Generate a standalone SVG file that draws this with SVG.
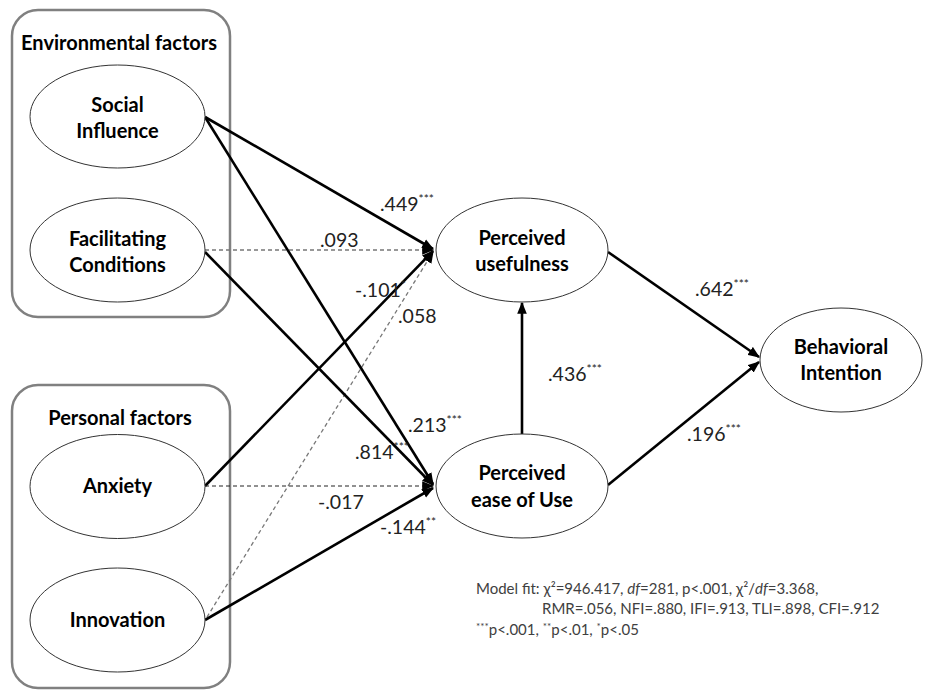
<svg xmlns="http://www.w3.org/2000/svg" width="930" height="690" viewBox="0 0 930 690">
<style>
.box{fill:none;stroke:#808080;stroke-width:2.5}
.node{fill:#fff;stroke:#333;stroke-width:1}
.nt{font-family:Lato,"Open Sans",sans-serif;font-weight:bold;font-size:20px;fill:#000;text-anchor:middle}
.gt{font-family:Lato,"Open Sans",sans-serif;font-weight:bold;font-size:20px;fill:#000;text-anchor:middle}
.solid{stroke:#000;stroke-width:2.6;fill:none}
.dash{stroke:#777;stroke-width:1.3;stroke-dasharray:4 3;fill:none}
.dashd{stroke:#222;stroke-width:1;stroke-dasharray:4 3;fill:none}
.lb{font-family:Lato,"Open Sans",sans-serif;font-size:19.5px;fill:#222}
.sup{font-size:12px}
.fit{font-family:Lato,"Open Sans",sans-serif;font-size:15px;fill:#404040}
.fsup{font-size:10px}
</style>
<defs>
<marker id="ah" viewBox="0 0 10 8" refX="9" refY="4" markerWidth="12" markerHeight="10" markerUnits="userSpaceOnUse" orient="auto">
<path d="M0,0 L10,4 L0,8 z" fill="#000"/>
</marker>
</defs>
<g id="env-group">
<rect class="box" x="12" y="10" width="218" height="307" rx="26"/>
<text class="gt" x="119" y="50">Environmental factors</text>
</g>
<g id="personal-group">
<rect class="box" x="12" y="385" width="218" height="303" rx="26"/>
<text class="gt" x="120" y="425">Personal factors</text>
</g>
<g id="connectors">
<line class="solid" x1="205" y1="117" x2="433" y2="249" marker-end="url(#ah)"/>
<line class="dash" x1="205" y1="250" x2="433" y2="250" marker-end="url(#ah)"/>
<line class="solid" x1="205" y1="486" x2="433" y2="251" marker-end="url(#ah)"/>
<line class="dash" x1="207" y1="617" x2="433" y2="252" marker-end="url(#ah)"/>
<line class="solid" x1="205" y1="117" x2="433" y2="484" marker-end="url(#ah)"/>
<line class="solid" x1="205" y1="252" x2="433" y2="485" marker-end="url(#ah)"/>
<line class="dashd" x1="205" y1="486" x2="433" y2="486" marker-end="url(#ah)"/>
<line class="solid" x1="205" y1="620" x2="433" y2="488" marker-end="url(#ah)"/>
<line class="solid" x1="522" y1="434" x2="522" y2="303" marker-end="url(#ah)"/>
<line class="solid" x1="608" y1="252" x2="759" y2="357" marker-end="url(#ah)"/>
<line class="solid" x1="608" y1="485" x2="759" y2="362" marker-end="url(#ah)"/>
</g>
<g id="labels">
<text class="lb" x="380" y="211">.449<tspan class="sup" dy="-8">***</tspan></text>
<text class="lb" x="320" y="247">.093</text>
<text class="lb" x="355" y="297">-.101<tspan class="sup" dy="-8">*</tspan></text>
<text class="lb" x="398" y="323">.058</text>
<text class="lb" x="408" y="432">.213<tspan class="sup" dy="-8">***</tspan></text>
<text class="lb" x="355" y="459">.814<tspan class="sup" dy="-8">***</tspan></text>
<text class="lb" x="318" y="509">-.017</text>
<text class="lb" x="380" y="534">-.144<tspan class="sup" dy="-8">**</tspan></text>
<text class="lb" x="695" y="296">.642<tspan class="sup" dy="-8">***</tspan></text>
<text class="lb" x="548" y="381">.436<tspan class="sup" dy="-8">***</tspan></text>
<text class="lb" x="687" y="441">.196<tspan class="sup" dy="-8">***</tspan></text>
</g>
<g id="social-influence">
<ellipse class="node" cx="117.5" cy="116.5" rx="87.5" ry="51.5"/>
<text class="nt" x="117.5" y="112">Social</text>
<text class="nt" x="117.5" y="138">Influence</text>
</g>
<g id="facilitating-conditions">
<ellipse class="node" cx="117.5" cy="250" rx="87.5" ry="52"/>
<text class="nt" x="117.5" y="246">Facilitating</text>
<text class="nt" x="117.5" y="272">Conditions</text>
</g>
<g id="anxiety">
<ellipse class="node" cx="117.5" cy="486.5" rx="87.5" ry="52"/>
<text class="nt" x="117.5" y="493">Anxiety</text>
</g>
<g id="innovation">
<ellipse class="node" cx="117.5" cy="620" rx="87.5" ry="52"/>
<text class="nt" x="117.5" y="627">Innovation</text>
</g>
<g id="perceived-usefulness">
<ellipse class="node" cx="522" cy="250" rx="86" ry="52"/>
<text class="nt" x="522" y="245">Perceived</text>
<text class="nt" x="522" y="271">usefulness</text>
</g>
<g id="perceived-ease">
<ellipse class="node" cx="522" cy="486" rx="86" ry="52"/>
<text class="nt" x="522" y="480">Perceived</text>
<text class="nt" x="522" y="507">ease of Use</text>
</g>
<g id="behavioral-intention">
<ellipse class="node" cx="841" cy="360" rx="81" ry="52"/>
<text class="nt" x="841" y="354">Behavioral</text>
<text class="nt" x="841" y="380">Intention</text>
</g>
<g id="model-fit">
<text class="fit" x="476" y="594">Model fit: χ²=946.417, <tspan font-style="italic">df</tspan>=281, p&lt;.001, χ²/<tspan font-style="italic">df</tspan>=3.368,</text>
<text class="fit" x="542" y="614">RMR=.056, NFI=.880, IFI=.913, TLI=.898, CFI=.912</text>
<text class="fit" x="476" y="635"><tspan class="fsup" dy="-5">***</tspan><tspan dy="5">p&lt;.001, </tspan><tspan class="fsup" dy="-5">**</tspan><tspan dy="5">p&lt;.01, </tspan><tspan class="fsup" dy="-5">*</tspan><tspan dy="5">p&lt;.05</tspan></text>
</g>
</svg>
